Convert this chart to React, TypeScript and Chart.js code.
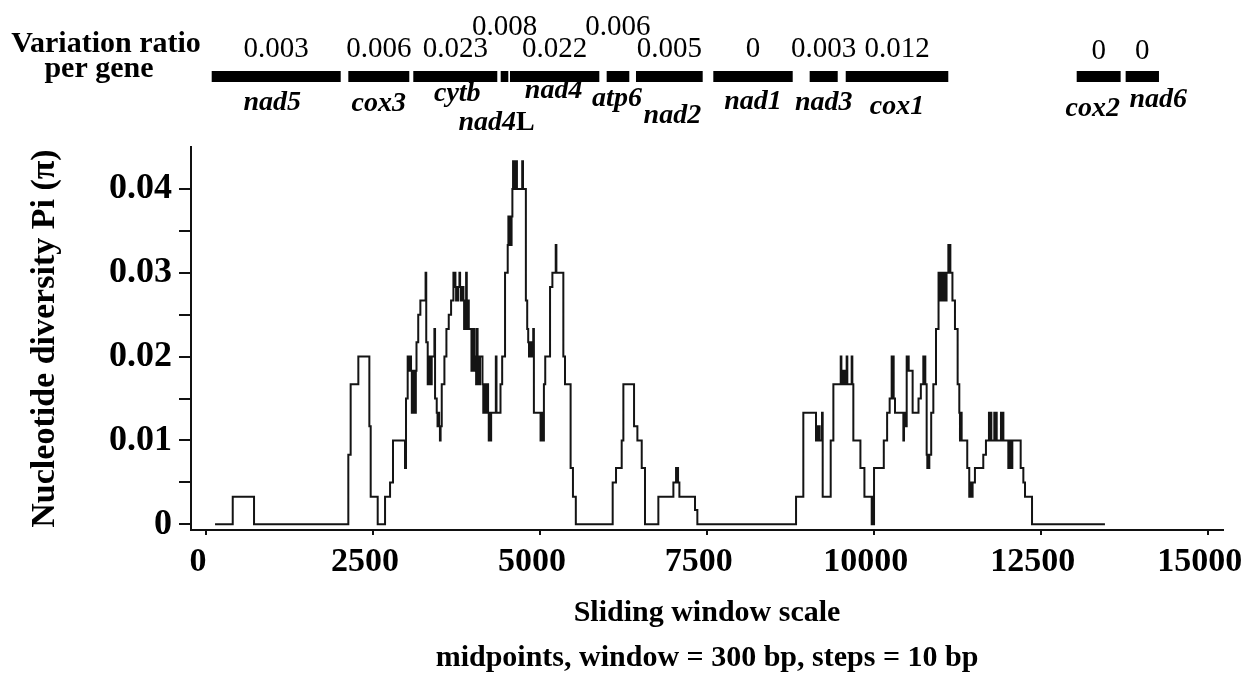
import React, { useEffect, useRef } from 'react';
import { Chart, registerables } from 'chart.js';

Chart.register(...registerables);

const SERIF = '"Liberation Serif", "Times New Roman", Times, serif';

// ---- axis ticks ----
const xTickValues = [0, 2500, 5000, 7500, 10000, 12500, 15000];
const yTickValues = [0, 0.005, 0.01, 0.015, 0.02, 0.025, 0.03, 0.035, 0.04];
const yTickLabels = ['0', '', '0.01', '', '0.02', '', '0.03', '', '0.04'];

// ---- genes (bp positions) ----
const geneNames = ['nad5', 'cox3', 'cytb', 'nad4L', 'nad4', 'atp6', 'nad2', 'nad1', 'nad3', 'cox1', 'cox2', 'nad6'];
const geneStart = [85, 2131, 3104, 4413, 4552, 6000, 6439, 7597, 9040, 9580, 13039, 13772];
const geneEnd = [2017, 3044, 4362, 4527, 5890, 6339, 7438, 8786, 9460, 11116, 13697, 14271];
const geneRatio = ['0.003', '0.006', '0.023', '0.008', '0.022', '0.006', '0.005', '0', '0.003', '0.012', '0', '0'];

// ---- label layout (pixels, separate from the data) ----
const ratioBaseline = [57, 57, 57, 35, 57, 35, 57, 57, 57, 57, 59, 59];
const nameBaseline = [110, 111, 101, 130, 98, 106, 123, 109, 110, 114, 116, 107];
const nameDx = [-4, 0, 2, -8, -1, -1, 3, 0, 0, 0, -6, 16];

// ---- sliding window nucleotide diversity: [window midpoint (bp), Pi] (step starts) ----
const piSteps: [number, number][] = [
  [135, 0], [400, 0.0033], [719, 0],
  [2131, 0.0083], [2166, 0.0167], [2281, 0.02], [2446, 0.0117], [2466, 0.0033], [2571, 0],
  [2681, 0.0033], [2756, 0.005], [2800, 0.01], [2980, 0.0067], [2995, 0.015], [3020, 0.02],
  [3030, 0.0183], [3040, 0.02], [3050, 0.0183], [3060, 0.02], [3070, 0.0183],
  [3082, 0.0133], [3094, 0.0183], [3106, 0.0133], [3118, 0.0183], [3130, 0.0133], [3142, 0.0183],
  [3152, 0.0217], [3178, 0.025], [3210, 0.0267], [3288, 0.03], [3298, 0.0217],
  [3320, 0.0167], [3332, 0.02], [3344, 0.0167], [3356, 0.02], [3368, 0.0167], [3380, 0.02],
  [3420, 0.0233], [3430, 0.015], [3455, 0.0133], [3467, 0.0117], [3479, 0.0133], [3491, 0.0117],
  [3503, 0.01], [3513, 0.0117], [3530, 0.0167], [3570, 0.02], [3600, 0.0233], [3635, 0.025],
  [3670, 0.0267], [3705, 0.03], [3715, 0.0283], [3725, 0.03], [3735, 0.0283], [3745, 0.0267],
  [3755, 0.0283], [3765, 0.0267], [3775, 0.0283], [3795, 0.03], [3805, 0.0283], [3815, 0.0267],
  [3825, 0.0283], [3835, 0.0267], [3845, 0.0283], [3855, 0.0267], [3865, 0.0233], [3875, 0.0267],
  [3885, 0.0233], [3895, 0.03], [3905, 0.0267], [3915, 0.0233], [3925, 0.0267], [3935, 0.0233],
  [3975, 0.0183], [3987, 0.0233], [3999, 0.0183], [4011, 0.0233], [4023, 0.0183], [4035, 0.02],
  [4045, 0.0167], [4057, 0.0233], [4067, 0.0167], [4079, 0.02], [4091, 0.0167], [4103, 0.02],
  [4140, 0.0167], [4152, 0.0133], [4164, 0.0167], [4176, 0.0133], [4188, 0.0167], [4200, 0.0133],
  [4212, 0.0167], [4224, 0.0133], [4234, 0.01], [4246, 0.0133], [4258, 0.01], [4270, 0.0133],
  [4340, 0.02], [4350, 0.0133], [4410, 0.0167], [4435, 0.02], [4478, 0.03], [4518, 0.0333],
  [4528, 0.0367], [4540, 0.0333], [4552, 0.0367], [4564, 0.0333], [4576, 0.0367], [4588, 0.04],
  [4598, 0.0433], [4610, 0.04], [4622, 0.0433], [4634, 0.04], [4646, 0.0433], [4656, 0.04],
  [4735, 0.0433], [4747, 0.04], [4790, 0.0267], [4810, 0.0233], [4825, 0.0217], [4837, 0.02],
  [4849, 0.0217], [4861, 0.02], [4873, 0.0217], [4885, 0.02], [4900, 0.0233], [4910, 0.0133],
  [5010, 0.01], [5020, 0.0133], [5030, 0.01], [5040, 0.0133], [5050, 0.01], [5060, 0.0167],
  [5080, 0.02], [5152, 0.0283], [5187, 0.03], [5237, 0.0333], [5247, 0.03], [5351, 0.02],
  [5376, 0.0167], [5460, 0.0067], [5495, 0.0033], [5538, 0],
  [6090, 0.005], [6140, 0.0067], [6225, 0.01], [6250, 0.0167], [6410, 0.0117], [6460, 0.01],
  [6525, 0.0067], [6574, 0], [6774, 0.0033], [6999, 0.005], [7039, 0.0067], [7049, 0.005],
  [7059, 0.0067], [7069, 0.005], [7089, 0.0033], [7323, 0.0017], [7358, 0],
  [8836, 0.0033], [8945, 0.0133], [9135, 0.01], [9160, 0.0117], [9170, 0.01], [9180, 0.0117],
  [9190, 0.01], [9225, 0.0133], [9235, 0.0033], [9355, 0.01], [9395, 0.0167], [9505, 0.02],
  [9515, 0.0167], [9525, 0.0183], [9535, 0.0167], [9545, 0.0183], [9555, 0.0167], [9565, 0.0183],
  [9575, 0.0167], [9594, 0.02], [9604, 0.0167], [9669, 0.02], [9679, 0.0167], [9694, 0.01],
  [9800, 0.0067], [9860, 0.0033], [9969, 0], [9979, 0.0033], [9989, 0], [10004, 0.0067],
  [10150, 0.01], [10200, 0.0133], [10238, 0.015], [10268, 0.02], [10278, 0.015], [10288, 0.02],
  [10298, 0.015], [10318, 0.0133], [10443, 0.01], [10453, 0.0117], [10463, 0.0133], [10473, 0.0117],
  [10493, 0.02], [10503, 0.0183], [10513, 0.02], [10523, 0.0183], [10582, 0.0133], [10670, 0.015],
  [10705, 0.0167], [10742, 0.02], [10752, 0.0183], [10762, 0.02], [10772, 0.0167], [10792, 0.0083],
  [10802, 0.0067], [10812, 0.0083], [10822, 0.0067], [10832, 0.0083], [10860, 0.0133], [10892, 0.0167],
  [10932, 0.0233], [10970, 0.03], [10980, 0.0267], [10990, 0.03], [11000, 0.0267], [11010, 0.03],
  [11020, 0.0267], [11030, 0.03], [11040, 0.0267], [11050, 0.03], [11060, 0.0267], [11070, 0.03],
  [11080, 0.0267], [11090, 0.03], [11117, 0.0333], [11127, 0.03], [11137, 0.0333], [11147, 0.03],
  [11178, 0.0267], [11216, 0.0233], [11256, 0.0167], [11281, 0.0133], [11291, 0.01], [11301, 0.0133],
  [11316, 0.01], [11400, 0.0067], [11430, 0.0033], [11440, 0.005], [11450, 0.0033], [11480, 0.005],
  [11515, 0.0067], [11640, 0.0083], [11680, 0.01],
  [11725, 0.0133], [11737, 0.01], [11749, 0.0133], [11761, 0.01],
  [11805, 0.0133], [11817, 0.01], [11829, 0.0133], [11841, 0.01],
  [11905, 0.0133], [11917, 0.01], [11929, 0.0133], [11941, 0.01],
  [12015, 0.0067], [12027, 0.01], [12039, 0.0067], [12051, 0.01], [12063, 0.0067], [12075, 0.01],
  [12200, 0.0067], [12240, 0.005], [12265, 0.0033], [12370, 0], [13462, 0],
];

function drawGeneName(ctx: CanvasRenderingContext2D, name: string, cx: number, y: number) {
  const italic = `italic bold 28px ${SERIF}`;
  const upright = `bold 28px ${SERIF}`;
  const m = name.match(/^(.*?)([A-Z]*)$/);
  const head = m ? m[1] : name;
  const tail = m ? m[2] : '';
  ctx.font = italic;
  const w1 = ctx.measureText(head).width;
  ctx.font = upright;
  const w2 = tail ? ctx.measureText(tail).width : 0;
  const x0 = cx - (w1 + w2) / 2;
  ctx.textAlign = 'left';
  ctx.font = italic;
  ctx.fillText(head, x0, y);
  if (tail) {
    ctx.font = upright;
    ctx.fillText(tail, x0 + w1, y);
  }
}

const geneTrackPlugin = {
  id: 'geneTrack',
  afterDraw(chart: any) {
    const { ctx } = chart;
    const xs = chart.scales.x;
    ctx.save();
    ctx.fillStyle = '#000';
    ctx.textBaseline = 'alphabetic';
    ctx.textAlign = 'center';
    ctx.font = `bold 30px ${SERIF}`;
    ctx.fillText('Variation ratio', 106, 52);
    ctx.fillText('per gene', 99, 77);
    geneNames.forEach((name, i) => {
      const x0 = xs.getPixelForValue(geneStart[i]);
      const x1 = xs.getPixelForValue(geneEnd[i]);
      ctx.fillStyle = '#000';
      ctx.fillRect(x0, 71, x1 - x0, 11);
      const cx = (x0 + x1) / 2;
      ctx.textAlign = 'center';
      ctx.font = `29px ${SERIF}`;
      ctx.fillText(geneRatio[i], cx, ratioBaseline[i]);
      drawGeneName(ctx, name, cx + nameDx[i], nameBaseline[i]);
    });
    ctx.restore();
  },
};

export default function App() {
  const ref = useRef<HTMLCanvasElement>(null);
  useEffect(() => {
    const canvas = ref.current;
    if (!canvas) return;
    const chart = new Chart(canvas, {
      type: 'line',
      data: {
        datasets: [
          {
            data: piSteps.map(([x, y]) => ({ x, y })),
            stepped: 'before',
            borderColor: '#141414',
            borderWidth: 2,
            pointRadius: 0,
            pointHoverRadius: 0,
            fill: false,
            tension: 0,
          },
        ],
      },
      options: {
        responsive: false,
        animation: false,
        devicePixelRatio: 1,
        events: [],
        layout: { padding: { top: 147, right: 21, bottom: 0, left: 0 } },
        plugins: { legend: { display: false }, tooltip: { enabled: false } },
        scales: {
          x: {
            type: 'linear',
            min: -225,
            max: 15230,
            afterBuildTicks: (s: any) => {
              s.ticks = xTickValues.map((v) => ({ value: v }));
            },
            afterFit: (s: any) => {
              s.height = 143;
              s.paddingLeft = 0;
              s.paddingRight = 0;
            },
            grid: { drawOnChartArea: false, drawTicks: true, tickLength: 5, color: '#111', lineWidth: 2 },
            border: { display: true, color: '#111', width: 2 },
            ticks: {
              autoSkip: false,
              maxRotation: 0,
              minRotation: 0,
              padding: 7,
              labelOffset: -8,
              color: '#000',
              font: { family: SERIF, size: 34, weight: 'bold' },
              callback: (v: any) => String(v),
            },
            title: {
              display: true,
              text: ['Sliding window scale', 'midpoints, window = 300 bp, steps = 10 bp'],
              color: '#000',
              font: { family: SERIF, size: 30, weight: 'bold', lineHeight: 1.5 },
              padding: { top: 0, bottom: -8 },
            },
          },
          y: {
            type: 'linear',
            min: -0.00068,
            max: 0.045,
            afterBuildTicks: (s: any) => {
              s.ticks = yTickValues.map((v) => ({ value: v }));
            },
            afterFit: (s: any) => {
              s.width = 191;
              s.paddingTop = 0;
              s.paddingBottom = 0;
            },
            grid: { drawOnChartArea: false, drawTicks: true, tickLength: 12, color: '#111', lineWidth: 2 },
            border: { display: true, color: '#111', width: 2 },
            ticks: {
              autoSkip: false,
              padding: 7,
              color: '#000',
              font: { family: SERIF, size: 36, weight: 'bold' },
              callback: (_v: any, i: number) => yTickLabels[i] ?? '',
            },
            title: {
              display: true,
              text: 'Nucleotide diversity Pi (π)',
              color: '#000',
              font: { family: SERIF, size: 34, weight: 'bold' },
              padding: { top: 25, bottom: 0 },
            },
          },
        },
      },
      plugins: [geneTrackPlugin],
    } as any);
    return () => chart.destroy();
  }, []);
  return (
    <div style={{ position: 'fixed', left: 0, top: 0, width: 1244, height: 673, background: '#fff' }}>
      <canvas ref={ref} width={1244} height={673} style={{ display: 'block' }} />
    </div>
  );
}
